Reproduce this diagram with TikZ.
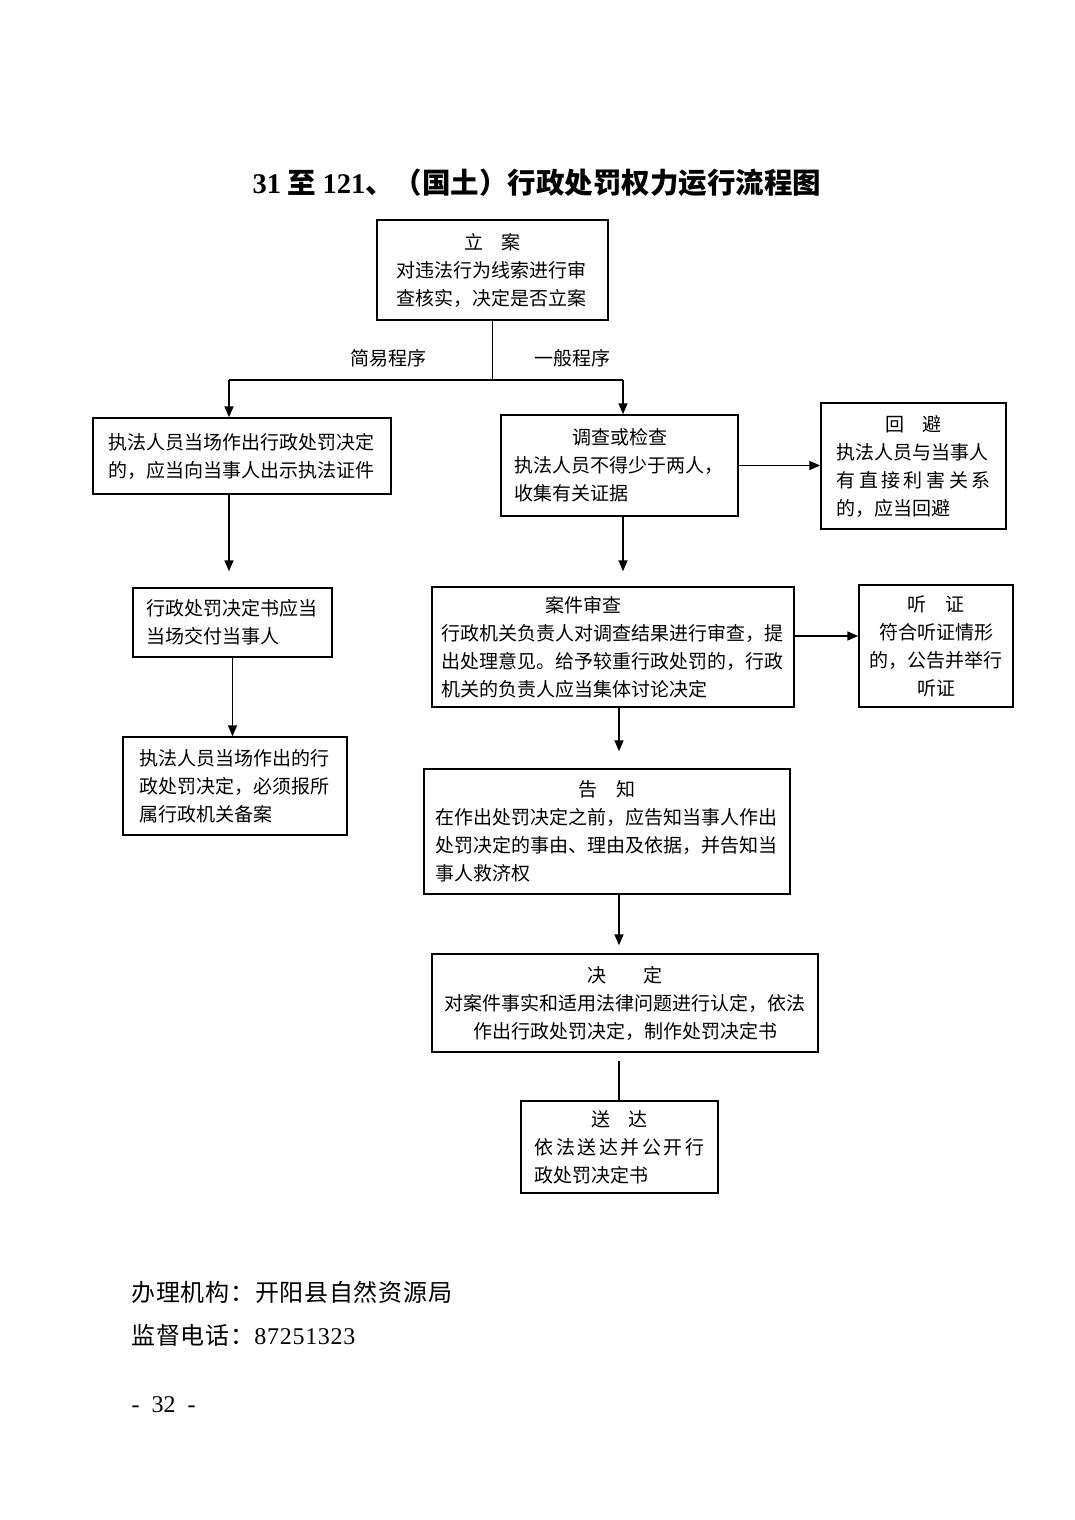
\documentclass[tikz,border=0pt]{standalone}
\usepackage{fontspec}
\setmainfont{Noto Sans CJK SC}
\newfontfamily\latinfont{Liberation Serif}
\usetikzlibrary{arrows.meta}
\newcommand\boxhead[1]{\makebox[\linewidth]{#1}}
\newcommand\boxfill[1]{\makebox[\linewidth][s]{#1}}
\begin{document}
\begin{tikzpicture}
    [ x=1pt, y=-1pt
    , every node/.style={font=\fontsize{19}{28}\selectfont}
    , box/.style={draw, line width=1.5pt, rectangle, inner sep=0pt, align=left}
    , arr/.style={line width=1.6pt, -{Triangle[length=11pt,width=9pt]}}
    , link/.style={line width=1.6pt}
    , foot/.style={anchor=west, font=\fontsize{24}{30}\selectfont}
    ]
    \useasboundingbox (0,0) rectangle (1074,1520);
    \node [font=\fontsize{28.5}{34}\selectfont\bfseries] (title) at (537,183)
      {{\latinfont\bfseries 31} 至 {\latinfont\bfseries 121}、（国土）行政处罚权力运行流程图};
    \node [box, minimum width=231pt, minimum height=100pt, text width=192pt] (lian) at (492.5,270)
      {\boxhead{立\quad 案}\\对违法行为线索进行审\\查核实，决定是否立案};
    \node (jianyilbl) at (388,358) {简易程序};
    \node (yibanlbl) at (572,358) {一般程序};
    \node [box, minimum width=298pt, minimum height=76pt, text width=268pt] (jianyi) at (242,456)
      {执法人员当场作出行政处罚决定\\的，应当向当事人出示执法证件};
    \node [box, minimum width=199pt, minimum height=69pt, text width=173pt] (jiaofu) at (232.5,622.5)
      {行政处罚决定书应当\\当场交付当事人};
    \node [box, minimum width=224pt, minimum height=98pt, text width=192pt] (beian) at (235,786)
      {执法人员当场作出的行\\政处罚决定，必须报所\\属行政机关备案};
    \node [box, minimum width=237pt, minimum height=101pt, text width=211pt] (diaocha) at (619.5,465.5)
      {\boxhead{调查或检查}\\执法人员不得少于两人，\\收集有关证据};
    \node [box, minimum width=185pt, minimum height=126pt, text width=154pt] (huibi) at (913.5,466)
      {\boxhead{回\quad 避}\\执法人员与当事人\\\boxfill{有\hfill 直\hfill 接\hfill 利\hfill 害\hfill 关\hfill 系}\\的，应当回避};
    \node [box, minimum width=362pt, minimum height=120pt, text width=344pt] (shencha) at (613,647)
      {\hspace*{104pt}案件审查\\行政机关负责人对调查结果进行审查，提\\出处理意见。给予较重行政处罚的，行政\\机关的负责人应当集体讨论决定};
    \node [box, align=center, minimum width=154pt, minimum height=122pt, text width=135pt] (tingzheng) at (936,646)
      {听\quad 证\\符合听证情形\\的，公告并举行\\听证};
    \node [box, minimum width=366pt, minimum height=125pt, text width=344pt] (gaozhi) at (607,831.5)
      {\boxhead{告\quad 知}\\在作出处罚决定之前，应告知当事人作出\\处罚决定的事由、理由及依据，并告知当\\事人救济权};
    \node [box, align=center, minimum width=386pt, minimum height=98pt, text width=363pt] (jueding) at (625,1003)
      {决\qquad 定\\对案件事实和适用法律问题进行认定，依法\\作出行政处罚决定，制作处罚决定书};
    \node [box, minimum width=197pt, minimum height=92pt, text width=170pt] (songda) at (619.5,1147)
      {\boxhead{送\quad 达}\\\boxfill{依\hfill 法\hfill 送\hfill 达\hfill 并\hfill 公\hfill 开\hfill 行}\\政处罚决定书};
    \node [foot] (jigou) at (128,1292) {\addfontfeature{LetterSpace=3}办理机构：开阳县自然资源局};
    \node [foot] (dianhua) at (128,1335) {\addfontfeature{LetterSpace=3}监督电话：{\latinfont\addfontfeature{LetterSpace=3}87251323}};
    \node [foot] (page) at (128,1405) {\latinfont -\hspace{12pt}32\hspace{12pt}-};
    \coordinate (bl) at (229,380);
    \coordinate (br) at (623,380);
    \coordinate (mid) at (619,0);
    \draw [link] (lian.south) -- (lian.south |- bl);
    \draw [link] (bl) -- (br);
    \draw [arr] (bl) -- (bl |- jianyi.north);
    \draw [arr] (br) -- (br |- diaocha.north);
    \draw [arr, shorten >=16pt] (bl |- jianyi.south) -- (bl |- jiaofu.north);
    \draw [arr] (jiaofu.south) -- (jiaofu.south |- beian.north);
    \draw [arr] (diaocha.east) -- (diaocha.east -| huibi.west);
    \draw [arr, shorten >=15pt] (br |- diaocha.south) -- (br |- shencha.north);
    \draw [arr] ([yshift=11pt]shencha.east) -- ([yshift=11pt]shencha.east -| tingzheng.west);
    \draw [arr, shorten >=17pt] (mid |- shencha.south) -- (mid |- gaozhi.north);
    \draw [arr, shorten >=8pt] (mid |- gaozhi.south) -- (mid |- jueding.north);
    \draw [link, shorten <=8pt] (mid |- jueding.south) -- (mid |- songda.north);
\end{tikzpicture}
\end{document}
